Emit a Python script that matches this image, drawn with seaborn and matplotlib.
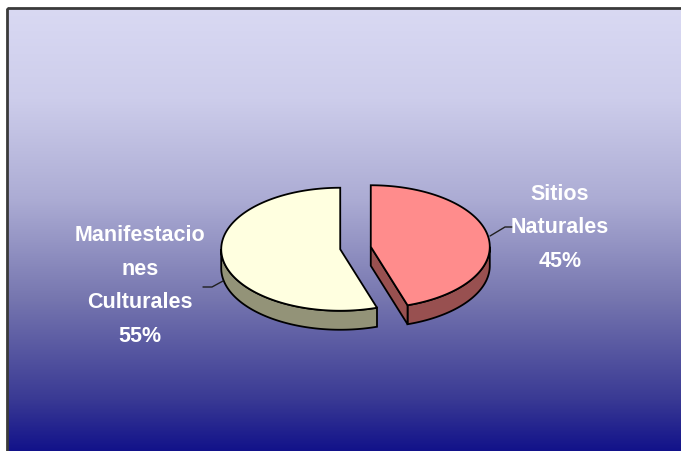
import numpy as np
import matplotlib
matplotlib.use("Agg")
import matplotlib.pyplot as plt
import seaborn as sns
from matplotlib.patches import Polygon, Rectangle

# Data
labels = ["Sitios\nNaturales", "Manifestacio\nnes\nCulturales"]
values = [45, 55]
top_colors = ["#FF8C8C", "#FFFFE0"]
side_colors = ["#985050", "#939378"]

sns.set_theme(style="white")
plt.rcParams['font.family'] = ['Liberation Sans', 'DejaVu Sans']

fig = plt.figure(figsize=(6.81, 4.52), dpi=100)
ax = fig.add_axes([0, 0, 1, 1])
ax.set_xlim(0, 681)
ax.set_ylim(452, 0)
ax.axis('off')

# background gradient (light lavender -> navy)
stops_y = [9, 100, 200, 300, 400, 452]
stops_c = np.array([(217, 217, 243), (205, 205, 235), (172, 172, 212),
                    (118, 118, 175), (58, 58, 148), (18, 18, 138)]) / 255
yy = np.arange(9, 453)
grad = np.stack([np.interp(yy, stops_y, stops_c[:, i]) for i in range(3)], axis=-1)
img = np.repeat(grad[:, None, :], 2, axis=1)
ax.imshow(img, extent=(7, 681, 452, 9), aspect='auto', zorder=0, interpolation='bilinear')
ax.add_patch(Rectangle((7, 9), 700, 500, fill=False, ec='#3a3a3a', lw=2, zorder=10))

# 3D pie geometry (pixels)
cx, cy, rx, ry, depth, explode = 355.5, 249, 119, 61.5, 19, 0.13


def rim(theta, dx, dy, dz=0):
    t = np.radians(np.atleast_1d(theta))
    return np.column_stack([cx + dx + rx * np.sin(t), cy + dy - ry * np.cos(t) + dz])


total = sum(values)
angles = np.concatenate([[0], np.cumsum(values) / total * 360])

for i, v in enumerate(values):
    a0, a1 = angles[i], angles[i + 1]
    mid = np.radians((a0 + a1) / 2)
    dx = explode * rx * np.sin(mid)
    dy = -explode * ry * np.cos(mid)
    apex = np.array([[cx + dx, cy + dy]])

    # outer wall, only the front half is visible
    lo, hi = max(a0, 90), min(a1, 270)
    if hi > lo:
        th = np.linspace(lo, hi, 80)
        wall = np.vstack([rim(th, dx, dy), rim(th[::-1], dx, dy, depth)])
        ax.add_patch(Polygon(wall, closed=True, fc=side_colors[i], ec='black', lw=1.3, zorder=2))

    # radial cut faces facing the viewer
    for a, vis in [(a0, np.sin(np.radians(a0)) < -1e-6), (a1, np.sin(np.radians(a1)) > 1e-6)]:
        if vis:
            face = np.vstack([apex, rim(a, dx, dy), rim(a, dx, dy, depth), apex + [0, depth]])
            ax.add_patch(Polygon(face, closed=True, fc=side_colors[i], ec='black', lw=1.3, zorder=2))

    # top face
    th = np.linspace(a0, a1, 150)
    top = np.vstack([apex, rim(th, dx, dy)])
    ax.add_patch(Polygon(top, closed=True, fc=top_colors[i], ec='black', lw=1.3, zorder=3))

# labels with leader lines
label_pos = [(560, 228), (140, 286)]
leaders = [([513, 505, 490], [228, 228, 237]), ([203, 212, 223], [288, 288, 282])]
for i, (lab, v) in enumerate(zip(labels, values)):
    lx, ly = leaders[i]
    ax.plot(lx, ly, color='#202020', lw=1, zorder=4)
    ax.text(label_pos[i][0], label_pos[i][1], f"{lab}\n{v}%", ha='center', va='center',
            color='white', fontsize=15.5, fontweight='bold', linespacing=1.8, zorder=5)

fig.savefig("out.png", dpi=100)
